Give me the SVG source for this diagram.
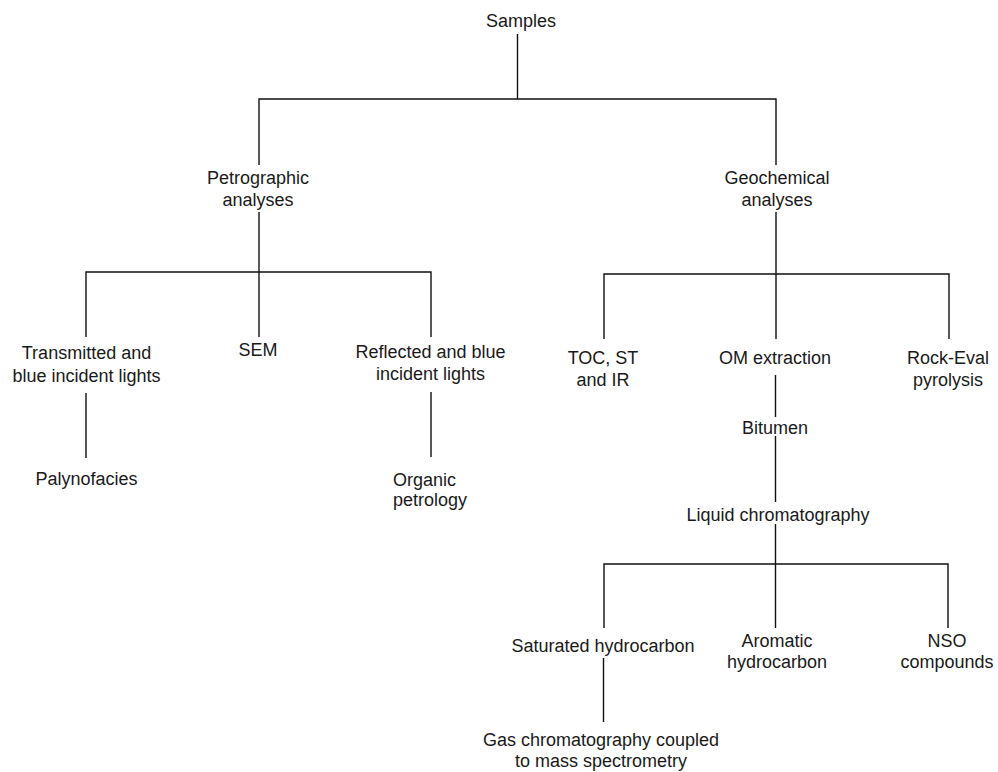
<svg xmlns="http://www.w3.org/2000/svg" width="998" height="772" viewBox="0 0 998 772">
<style>
text{font-family:"Liberation Sans",Arial,sans-serif;font-size:18px;fill:#1a1a1a;text-anchor:middle}
.c line,.c path{stroke:#111;stroke-width:1.4;fill:none}
</style>
<rect width="998" height="772" fill="#fff"/>
<g class="c" id="connectors">
<path d="M517.5 34V99M259 165V99H776V165"/>
<path d="M259 212V337M86 337V272H431V337"/>
<path d="M776 212V339M604 339V274H949V339"/>
<path d="M86 393V458M431 392V457"/>
<path d="M775.5 375V417M775.5 436V502M775.5 524V628M604 628V564H948V628"/>
<path d="M603.5 658V722"/>
</g>
<g id="n-samples"><text x="521" y="27">Samples</text></g>
<g id="n-petro"><text x="258" y="184">Petrographic</text><text x="258" y="206">analyses</text></g>
<g id="n-geo"><text x="777" y="184">Geochemical</text><text x="777" y="206">analyses</text></g>
<g id="n-trans"><text x="86.5" y="359">Transmitted and</text><text x="86.5" y="382">blue incident lights</text></g>
<g id="n-sem"><text x="258" y="356">SEM</text></g>
<g id="n-refl"><text x="430.5" y="358">Reflected and blue</text><text x="430.5" y="380">incident lights</text></g>
<g id="n-paly"><text x="86.5" y="485">Palynofacies</text></g>
<g id="n-org"><text x="393" y="486" style="text-anchor:start">Organic</text><text x="393" y="506" style="text-anchor:start">petrology</text></g>
<g id="n-toc"><text x="603" y="364">TOC, ST</text><text x="603" y="386">and IR</text></g>
<g id="n-om"><text x="775" y="364">OM extraction</text></g>
<g id="n-rock"><text x="948" y="364">Rock-Eval</text><text x="948" y="386">pyrolysis</text></g>
<g id="n-bit"><text x="775" y="434">Bitumen</text></g>
<g id="n-liq"><text x="778" y="521">Liquid chromatography</text></g>
<g id="n-sat"><text x="603" y="652">Saturated hydrocarbon</text></g>
<g id="n-aro"><text x="777" y="647">Aromatic</text><text x="777" y="668">hydrocarbon</text></g>
<g id="n-nso"><text x="947" y="647">NSO</text><text x="947" y="668">compounds</text></g>
<g id="n-gas"><text x="601" y="746">Gas chromatography coupled</text><text x="601" y="767">to mass spectrometry</text></g>
</svg>
